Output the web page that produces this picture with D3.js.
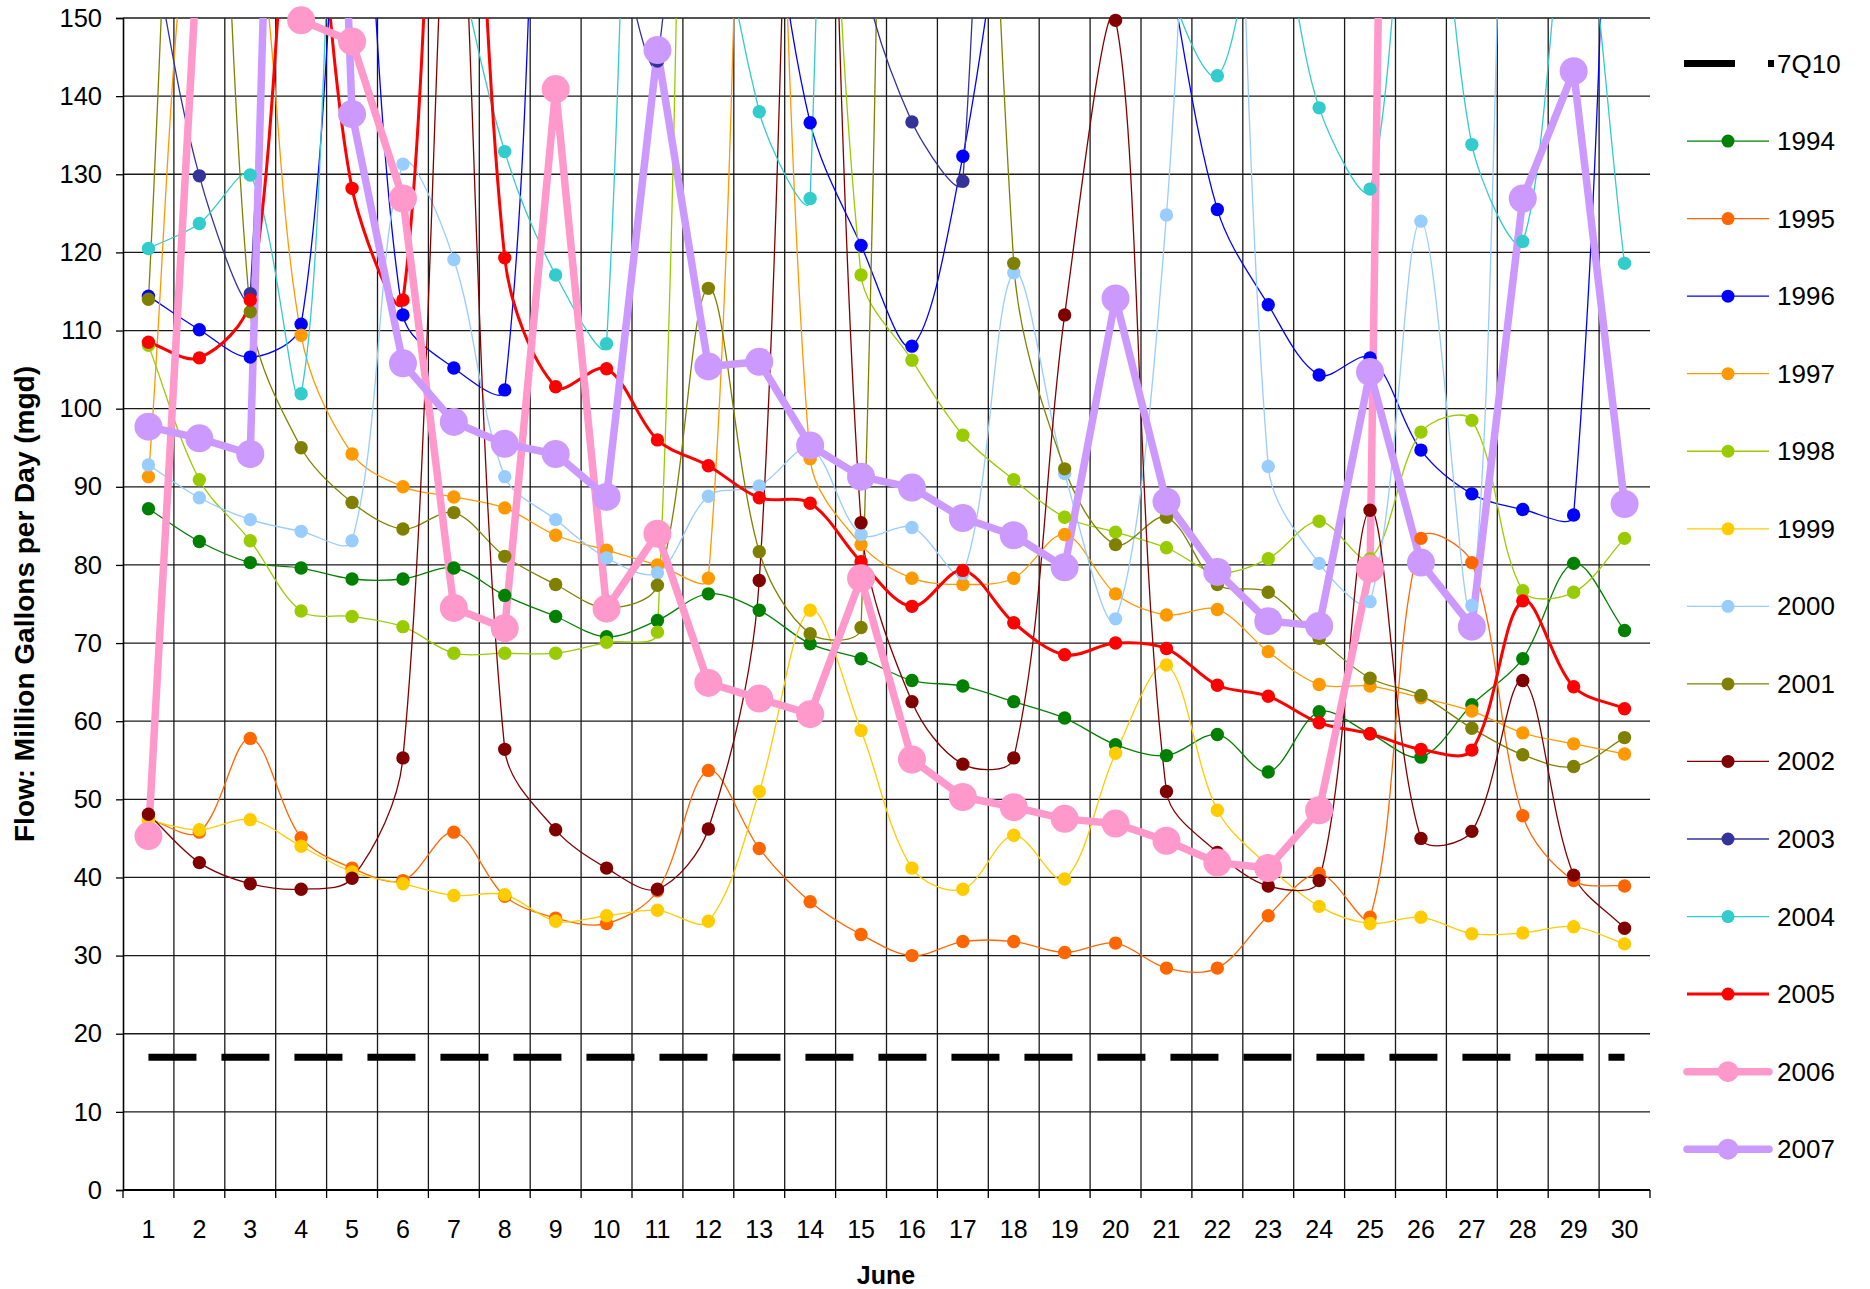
<!DOCTYPE html>
<html><head><meta charset="utf-8">
<script src="https://cdn.jsdelivr.net/npm/d3@7/dist/d3.min.js"></script>
<style>body{margin:0;background:#fff}svg text{font-family:"Liberation Sans",Arial,sans-serif}</style>
</head><body>
<svg id="c" width="1870" height="1289"></svg>
<script>
// ---------- data ----------
const dayLabels = [1,2,3,4,5,6,7,8,9,10,11,12,13,14,15,16,17,18,19,20,21,22,23,24,25,26,27,28,29,30];
const yTicks = [0,10,20,30,40,50,60,70,80,90,100,110,120,130,140,150];
const seriesNames = ["1994","1995","1996","1997","1998","1999","2000","2001","2002","2003","2004","2005","2006","2007"];

const v7Q10 = [17,17,17,17,17,17,17,17,17,17,17,17,17,17,17,17,17,17,17,17,17,17,17,17,17,17,17,17,17,17];
const y1994 = [87.2,83.0,80.3,79.6,78.2,78.2,79.6,76.1,73.4,70.8,72.9,76.3,74.2,69.9,68.0,65.2,64.5,62.5,60.4,57.0,55.6,58.3,53.5,61.2,58.4,55.4,62.1,68.0,80.2,71.6];
const y1995 = [47.5,45.8,57.8,45.1,41.2,39.6,45.8,37.6,34.8,34.1,38.3,53.7,43.7,36.9,32.7,30.0,31.8,31.8,30.4,31.6,28.4,28.4,35.1,40.5,34.9,83.4,80.3,47.9,39.6,38.9];
const y1996 = [114.4,110.1,106.6,110.8,185,112.0,105.2,102.4,225,250,240,210,176,136.6,120.9,108.0,132.3,173,200,190,158,125.5,113.3,104.3,106.5,94.7,89.1,87.1,86.4,250];
const y1997 = [91.3,174,167,109.4,94.2,90.0,88.7,87.3,83.8,81.9,80.0,78.3,240,93.6,82.6,78.3,77.5,78.3,83.9,76.3,73.6,74.3,68.9,64.7,64.5,63.0,61.3,58.5,57.1,55.8];
const y1998 = [108.1,90.9,83.1,74.1,73.4,72.1,68.7,68.7,68.7,70.1,71.4,350,300,235,117.1,106.2,96.6,90.9,86.1,84.2,82.2,79.0,80.8,85.6,80.8,97.0,98.5,76.7,76.5,83.4];
const y1999 = [47.3,46.1,47.4,44.0,40.7,39.2,37.7,37.8,34.4,35.1,35.8,34.4,51.0,74.2,58.8,41.2,38.5,45.4,39.8,55.9,67.2,48.6,41.5,36.3,34.1,34.9,32.8,32.9,33.7,31.5];
const y2000 = [92.8,88.6,85.8,84.3,83.1,131.3,119.1,91.3,85.8,80.9,79.0,88.8,90.1,94.9,83.9,84.8,78.9,117.4,91.7,73.1,124.8,240,92.6,80.2,75.3,124.0,74.8,230,250,230];
const y2001 = [114.0,235,112.4,95.0,88.0,84.6,86.7,81.1,77.5,74.5,77.4,115.4,81.7,71.2,72.0,450,300,118.6,92.3,82.6,86.1,77.5,76.5,70.6,65.5,63.3,59.1,55.7,54.2,57.9];
const y2002 = [48.1,41.9,39.2,38.5,39.9,55.3,176,56.4,46.1,41.2,38.5,46.2,78.0,250,85.4,62.5,54.5,55.3,112.0,149.7,51.0,43.2,38.9,39.6,87.0,45.0,45.9,65.2,40.3,33.5];
const y2003 = [162,129.8,114.7,360,400,380,340,300,240,170,144.5,260,300,240,158,136.7,129.1,330,360,380,400,420,400,380,360,350,340,330,320,310];
const y2004 = [120.5,123.7,129.9,101.9,200,190,160,132.9,117.1,108.3,350,180,138.0,126.9,500,400,350,300,250,200,156,142.6,166,138.5,128.1,188,133.8,121.4,170,118.6];
const y2005 = [108.5,106.5,113.9,180,128.2,113.9,225,119.3,102.8,105.1,96.0,92.7,88.6,87.9,80.4,74.7,79.3,72.6,68.5,70.0,69.3,64.6,63.2,59.8,58.4,56.4,56.3,75.4,64.4,61.6];
const y2006 = [45.3,162,190,149.7,147.0,126.9,74.5,71.9,140.9,74.4,84.0,64.9,62.9,60.9,78.3,55.1,50.3,49.0,47.5,46.9,44.7,41.9,41.2,48.6,79.5,520,600,420,260,154.6];
const y2007 = [97.7,96.2,94.2,315,137.7,105.8,98.3,95.5,94.2,88.7,145.9,105.4,106.0,95.3,91.3,89.9,86.0,83.8,79.7,114.1,88.1,79.1,72.8,72.2,104.7,80.3,72.1,126.9,143.2,87.8];

// ---------- styles ----------
const seriesValues = [y1994,y1995,y1996,y1997,y1998,y1999,y2000,y2001,y2002,y2003,y2004,y2005,y2006,y2007];
const seriesColors = ["#008000","#FF6600","#0000FF","#FF9900","#99CC00","#FFCC00","#99CCFF","#808000","#800000","#333399","#33CCCC","#FF0000","#FF99CC","#CC99FF"];
const seriesWidths = [1.3,1.3,1.3,1.3,1.3,1.3,1.3,1.3,1.3,1.3,1.3,3,7.5,7.5];
const seriesRadius = [6.7,6.7,6.7,6.7,6.7,6.7,6.7,6.7,6.7,6.7,6.7,6.7,14,14];
const seriesSmooth = [true,true,true,true,true,true,true,true,true,true,true,true,false,false];

const X0 = 123, X1 = 1650, Y0 = 18, Y1 = 1190;
const FS = 25;

const svg = d3.select("#c");
const x = d3.scaleBand().domain(dayLabels).range([X0, X1]).padding(0);
const cx = d => x(d) + x.bandwidth() / 2;
const y = d3.scaleLinear().domain([0, 150]).range([Y1, Y0]);

// Excel-like smoothing curve (distance-weighted Catmull-Rom Bezier)
function excelSmooth(context) {
  let pts;
  return {
    areaStart() {}, areaEnd() {},
    lineStart() { pts = []; },
    point(px, py) { pts.push([+px, +py]); },
    lineEnd() {
      const n = pts.length; if (!n) return;
      context.moveTo(pts[0][0], pts[0][1]);
      const dist = (a, b) => Math.hypot(b[0] - a[0], b[1] - a[1]);
      for (let i = 0; i < n - 1; i++) {
        const P0 = pts[i - 1] || pts[i], P1 = pts[i], P2 = pts[i + 1], P3 = pts[i + 2] || pts[i + 1];
        const d01 = dist(P0, P1), d12 = dist(P1, P2), d23 = dist(P2, P3);
        const f1 = d12 / (3 * (d01 + d12)), f2 = d12 / (3 * (d12 + d23));
        const c1 = [P1[0] + (P2[0] - P0[0]) * f1, P1[1] + (P2[1] - P0[1]) * f1];
        const c2 = [P2[0] - (P3[0] - P1[0]) * f2, P2[1] - (P3[1] - P1[1]) * f2];
        context.bezierCurveTo(c1[0], c1[1], c2[0], c2[1], P2[0], P2[1]);
      }
    }
  };
}

svg.append("defs").append("clipPath").attr("id", "plotclip")
  .append("rect").attr("x", X0).attr("y", Y0).attr("width", X1 - X0).attr("height", Y1 - Y0);

// gridlines
const grid = svg.append("g");
grid.selectAll("line.h").data(yTicks.filter(t => t > 0)).join("line")
  .attr("x1", X0).attr("x2", X1).attr("y1", d => y(d)).attr("y2", d => y(d))
  .attr("stroke", "#1a1a1a").attr("stroke-width", 1.3);
grid.selectAll("line.v").data(dayLabels.slice(1)).join("line")
  .attr("x1", d => x(d)).attr("x2", d => x(d)).attr("y1", Y0).attr("y2", Y1)
  .attr("stroke", "#1a1a1a").attr("stroke-width", 1.3);

// y axis
const yAxis = svg.append("g").attr("transform", `translate(${X0},0)`)
  .call(d3.axisLeft(y).tickValues(yTicks).tickSize(7).tickPadding(14));
yAxis.select(".domain").attr("stroke", "#000").attr("stroke-width", 1.6);
yAxis.selectAll(".tick line").attr("stroke", "#000").attr("stroke-width", 1.3);
yAxis.selectAll("text").attr("font-size", FS + 0.5).attr("fill", "#000").attr("font-family", "Liberation Sans, Arial, sans-serif");

// x axis
const xAxis = svg.append("g").attr("transform", `translate(0,${Y1})`)
  .call(d3.axisBottom(x).tickSize(0).tickPadding(30));
xAxis.select(".domain").remove();
xAxis.selectAll("text").attr("font-size", FS).attr("fill", "#000").attr("font-family", "Liberation Sans, Arial, sans-serif");
svg.append("line").attr("x1", X0).attr("x2", X1).attr("y1", Y1).attr("y2", Y1).attr("stroke", "#000").attr("stroke-width", 1.8);
svg.append("g").selectAll("line").data(d3.range(0, dayLabels.length + 1)).join("line")
  .attr("x1", i => X0 + i * x.bandwidth()).attr("x2", i => X0 + i * x.bandwidth())
  .attr("y1", Y1).attr("y2", Y1 + 8).attr("stroke", "#000").attr("stroke-width", 1.3);

// axis titles
svg.append("text").attr("x", 886).attr("y", 1284).attr("text-anchor", "middle")
  .attr("font-size", FS).attr("font-weight", "bold").text("June");
svg.append("text").attr("transform", "translate(34,604) rotate(-90)").attr("text-anchor", "middle")
  .attr("font-size", 28).attr("font-weight", "bold").text("Flow: Million Gallons per Day (mgd)");

// 7Q10 line
const lineStraight = d3.line().x((d, i) => cx(dayLabels[i])).y(d => y(d));
svg.append("path").attr("clip-path", "url(#plotclip)")
  .attr("d", lineStraight(v7Q10)).attr("fill", "none").attr("stroke", "#000")
  .attr("stroke-width", 7).attr("stroke-dasharray", "48,25");

// series lines
const lineSmooth = d3.line().x((d, i) => cx(dayLabels[i])).y(d => y(d)).curve(excelSmooth);
const lines = svg.append("g").attr("clip-path", "url(#plotclip)");
seriesValues.forEach((vals, k) => {
  lines.append("path")
    .attr("d", (seriesSmooth[k] ? lineSmooth : lineStraight)(vals))
    .attr("fill", "none").attr("stroke", seriesColors[k])
    .attr("stroke-width", seriesWidths[k]).attr("stroke-linejoin", "round");
});

// markers
const marks = svg.append("g");
seriesValues.forEach((vals, k) => {
  marks.append("g").selectAll("circle").data(vals).join("circle")
    .attr("cx", (d, i) => cx(dayLabels[i])).attr("cy", d => y(d))
    .attr("r", seriesRadius[k]).attr("fill", seriesColors[k]);
});

// legend
const LY0 = 63.5, LDY = 77.55, LXa = 1687, LXb = 1769, LTX = 1777;
const leg = svg.append("g");
leg.append("line").attr("x1", 1684).attr("x2", 1774).attr("y1", LY0).attr("y2", LY0)
  .attr("stroke", "#000").attr("stroke-width", 7).attr("stroke-dasharray", "51,33");
leg.append("text").attr("x", LTX).attr("y", LY0 + 9).attr("font-size", 26).text("7Q10");
seriesNames.forEach((nm, k) => {
  const ly = LY0 + (k + 1) * LDY;
  leg.append("line").attr("x1", LXa).attr("x2", LXb).attr("y1", ly).attr("y2", ly)
    .attr("stroke", seriesColors[k]).attr("stroke-width", seriesWidths[k]).attr("stroke-linecap", k >= 12 ? "round" : "butt");
  leg.append("circle").attr("cx", (LXa + LXb) / 2).attr("cy", ly)
    .attr("r", k >= 12 ? 10.5 : 6.5).attr("fill", seriesColors[k]);
  leg.append("text").attr("x", LTX).attr("y", ly + 9).attr("font-size", 26).text(nm);
});
</script>
</body></html>
